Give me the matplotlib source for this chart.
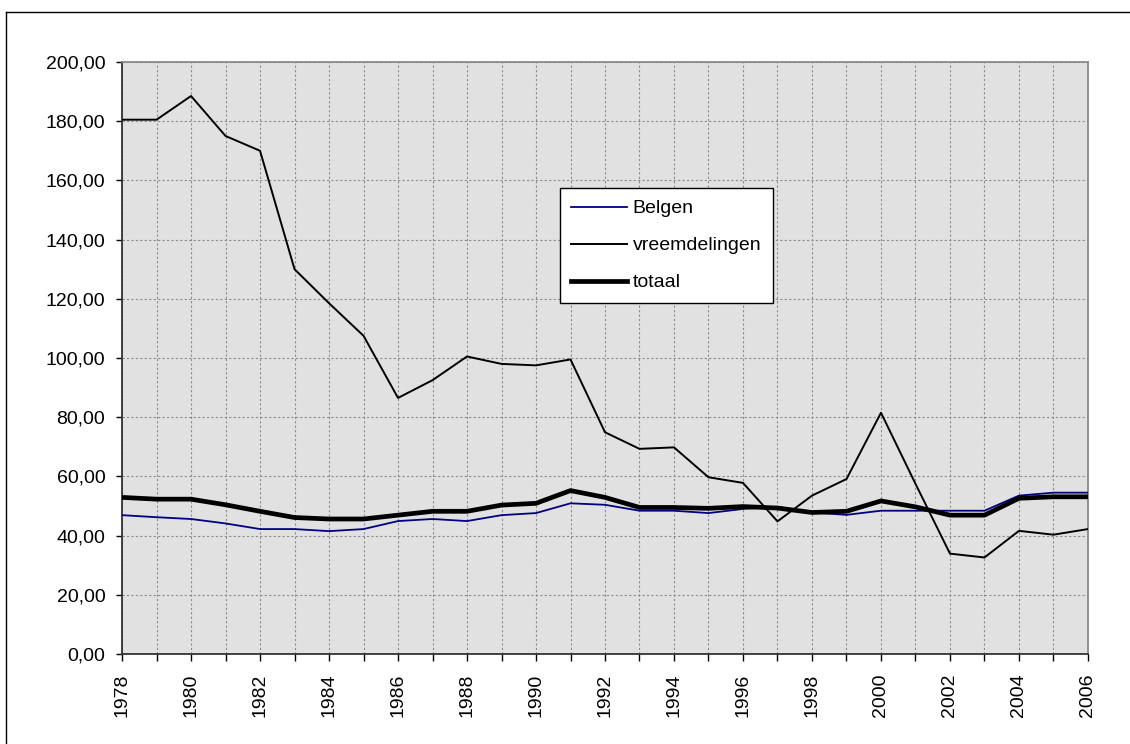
import matplotlib

matplotlib.use('Agg')
import matplotlib.pyplot as plt  # noqa: E402
from matplotlib.lines import Line2D  # noqa: E402
from matplotlib.ticker import FuncFormatter  # noqa: E402

plt.rcParams['font.family'] = ['Liberation Sans', 'DejaVu Sans']

years = list(range(1978, 2007))

belgen = [46.9, 46.2, 45.6, 44.1, 42.2, 42.2, 41.5, 42.2, 44.9, 45.6,
          44.9, 46.9, 47.6, 50.9, 50.4, 48.4, 48.4, 47.6, 49.0, 49.7,
          47.8, 47.0, 48.4, 48.4, 48.4, 48.4, 53.5, 54.5, 54.5]

vreemdelingen = [180.5, 180.5, 188.5, 175.0, 170.0, 130.0, 118.5, 107.5, 86.5, 92.5,
                 100.5, 98.0, 97.5, 99.5, 74.9, 69.3, 69.8, 59.7, 57.8, 44.8,
                 53.5, 59.1, 81.5, 57.5, 33.9, 32.6, 41.6, 40.3, 42.2]

totaal = [52.9, 52.3, 52.3, 50.4, 48.2, 46.1, 45.6, 45.6, 46.9, 48.2,
          48.2, 50.3, 50.9, 55.2, 52.9, 49.5, 49.5, 49.2, 49.8, 49.3,
          47.8, 48.2, 51.7, 49.7, 46.9, 46.9, 52.6, 53.1, 53.1]

fig = plt.figure(figsize=(11.3, 7.44), dpi=100)
ax = fig.add_axes([0.108, 0.121, 0.8548, 0.7957])
ax.set_facecolor('#e1e1e1')

ax.plot(years, belgen, color='#000080', lw=1.3, label='Belgen', zorder=3)
ax.plot(years, vreemdelingen, color='black', lw=1.4, label='vreemdelingen', zorder=3)
ax.plot(years, totaal, color='black', lw=3.4, label='totaal', zorder=4)

ax.set_xlim(1978, 2006)
ax.set_ylim(0, 200)
ax.set_yticks(range(0, 201, 20))
ax.yaxis.set_major_formatter(FuncFormatter(lambda v, p: f'{v:.2f}'.replace('.', ',')))
ax.set_xticks(years)
ax.set_xticklabels([str(y) if y % 2 == 0 else '' for y in years], rotation=90)

ax.grid(True, color='#8c8c8c', linestyle=(0, (2, 2)), lw=0.8)
ax.set_axisbelow(True)

ax.tick_params(axis='y', direction='out', length=4, width=1, pad=8, labelsize=14, colors='black')
ax.tick_params(axis='x', direction='out', length=5, width=1, pad=9, labelsize=14, colors='black')

for side in ['left', 'bottom']:
    ax.spines[side].set_color('#333333')
    ax.spines[side].set_linewidth(1.3)
for side in ['top', 'right']:
    ax.spines[side].set_color('#8a8a8a')
    ax.spines[side].set_linewidth(1.3)

leg = ax.legend(loc='upper left', bbox_to_anchor=(0.453, 0.787), fontsize=14,
                frameon=True, fancybox=False, framealpha=1, edgecolor='black',
                handlelength=2.85, handletextpad=0.3, labelspacing=1.0,
                borderpad=0.6, borderaxespad=0)
leg.get_frame().set_linewidth(1.0)

# outer chart frame (only top and left edges are visible)
fig.add_artist(Line2D([6 / 1130, 1], [1 - 12 / 744, 1 - 12 / 744],
                      transform=fig.transFigure, color='black', lw=1))
fig.add_artist(Line2D([6 / 1130, 6 / 1130], [0, 1 - 12 / 744],
                      transform=fig.transFigure, color='black', lw=1))

fig.savefig('out.png', dpi=100)
plt.close(fig)
